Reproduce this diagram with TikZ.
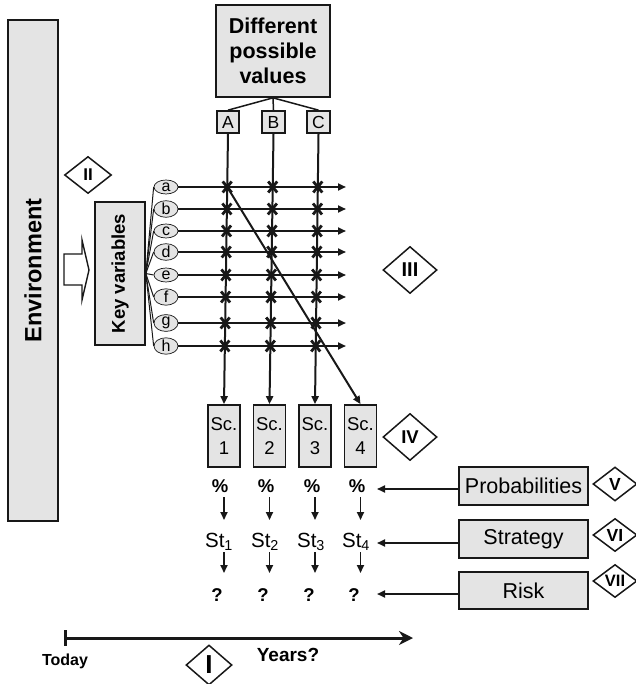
\documentclass[tikz,border=0pt]{standalone}
\usepackage{fontspec}
\setmainfont{Liberation Sans}
\usetikzlibrary{shapes.geometric,arrows.meta,calc}
\definecolor{boxgray}{RGB}{228,228,228}
\definecolor{ink}{RGB}{24,24,24}
\newcommand{\fs}[2]{\fontsize{#1}{#2}\selectfont}
\begin{document}
\begin{tikzpicture}[x=1pt,y=-1pt,
  graybox/.style={draw=ink, line width=1.7pt, fill=boxgray, inner sep=0pt, align=center},
  tag/.style={diamond, draw=ink, line width=1.5pt, fill=white, inner sep=0pt, font=\bfseries},
  varoval/.style={ellipse, draw=ink, line width=0.7pt, fill=boxgray, minimum width=24pt,
                  minimum height=14pt, inner sep=0pt, font=\fs{16}{16}},
  link/.style={draw=ink, line width=2pt},
  tip/.style={-{Triangle[length=8pt,width=7pt]}},
  fan/.style={draw=ink, line width=1pt},
  cell/.style={inner sep=1pt},
]
\useasboundingbox (0,0) rectangle (635,684);

% --- environment and key variables
\node[graybox, minimum width=50pt, minimum height=501pt] (env) at (33,270.5)
  {\rotatebox{90}{\fs{23.5}{23.5}\bfseries Environment}};
\node[graybox, minimum width=50pt, minimum height=143pt] (kv) at (120,273.5)
  {\rotatebox{90}{\fs{18.5}{18.5}\bfseries Key variables}};
\draw[draw=ink, line width=1.4pt, fill=white]
  (64,254) -- (82,254) -- (82,240) -- (89,270) -- (82,300) -- (82,285) -- (64,285) -- cycle;

% --- possible values
\node[graybox, minimum width=114pt, minimum height=92pt, font=\fs{21.5}{25}\bfseries] (vals) at (273,51)
  {Different\\possible\\values};
\node[graybox, minimum width=22pt, minimum height=22pt, font=\fs{17.5}{17.5}] (A) at (228,122) {A};
\node[graybox, minimum width=23pt, minimum height=22pt, font=\fs{17.5}{17.5}] (B) at (273.5,122) {B};
\node[graybox, minimum width=23pt, minimum height=22pt, font=\fs{17.5}{17.5}] (C) at (318.5,122) {C};
\draw[fan, line width=1.5pt] (vals.south) -- (A.north) (vals.south) -- (B.north) (vals.south) -- (C.north);

% --- scenarios
\foreach \i/\x in {1/224,2/269.5,3/315,4/360.5}
  \node[graybox, minimum width=32pt, minimum height=62pt, font=\fs{18.5}{24}] (S\i) at (\x,436) {Sc.\\\i};

% --- key variable ovals and their rows
\foreach \v/\y in {a/187,b/209,c/231,d/252,e/275,f/297,g/323,h/346} {
  \node[varoval] (\v) at (166,\y) {\v};
  \coordinate (\v-end) at (346,\y);
  \draw[fan] (kv.east) -- (\v.west);
  \draw[link, tip] (\v.east) -- (\v-end);
}

% --- value columns
\draw[link, tip] (A.south) -- (S1.north);
\draw[link, tip] (B.south) -- (S2.north);
\draw[link, tip] (C.south) -- (S3.north);
\coordinate (aA) at (intersection of A.south--S1.north and a.east--a-end);
\draw[link, tip] (aA) -- (S4.north);

% --- crossings
\foreach \v in {a,b,c,d,e,f,g,h}
  \foreach \c/\s in {A/S1,B/S2,C/S3} {
    \coordinate (x-\v\c) at (intersection of \c.south--\s.north and \v.east--\v-end);
    \draw[ink, line width=2.8pt] ($(x-\v\c)+(-4.5,-5.5)$) -- ($(x-\v\c)+(4.5,5.5)$)
                                 ($(x-\v\c)+(-4.5,5.5)$) -- ($(x-\v\c)+(4.5,-5.5)$);
  }

% --- probabilities, strategies, risks
\foreach \i/\x in {1/220,2/266,3/312,4/357} {
  \node[cell, font=\fs{18.5}{18.5}\bfseries] (p\i) at (\x,486) {\%};
  \node[cell, font=\fs{20.5}{20.5}] (st\i) at (\x-1,542) {St$_{\mathrm{\i}}$};
  \node[cell, font=\fs{18.5}{18.5}\bfseries] (q\i) at (\x-3,595) {?};
  \draw[link, line width=1.8pt, tip] (S\i |- 0,497) -- (S\i |- 0,520);
  \draw[link, line width=1.8pt, tip] (S\i |- 0,552) -- (S\i |- 0,573);
}

\node[graybox, minimum width=129pt, minimum height=38pt, font=\fs{21.5}{21.5}] (prob) at (523.5,486) {Probabilities};
\node[graybox, minimum width=129pt, minimum height=38pt, font=\fs{21.5}{21.5}] (strat) at (523.5,539) {Strategy};
\node[graybox, minimum width=129pt, minimum height=37pt, font=\fs{21.5}{21.5}] (risk) at (523.5,590.5) {Risk};
\coordinate (pin) at (377,489);
\coordinate (sin) at (377,543);
\coordinate (rin) at (377,594);
\draw[link, line width=1.8pt, tip] (prob.west |- pin) -- (pin);
\draw[link, line width=1.8pt, tip] (strat.west |- sin) -- (sin);
\draw[link, line width=1.8pt, tip] (risk.west |- rin) -- (rin);

% --- step markers
\node[tag, minimum width=47pt, minimum height=37pt, font=\fs{17}{17}\bfseries] (t2) at (88,175) {II};
\node[tag, minimum width=54pt, minimum height=47pt, font=\fs{20}{20}\bfseries] (t3) at (410,270) {III};
\node[tag, minimum width=54pt, minimum height=47pt, font=\fs{18.5}{18.5}\bfseries] (t4) at (410,437) {IV};
\node[tag, minimum width=44pt, minimum height=34pt, font=\fs{17.5}{17.5}\bfseries] (t5) at (615,484) {V};
\node[tag, minimum width=44pt, minimum height=33pt, font=\fs{17.5}{17.5}\bfseries] (t6) at (615,535) {VI};
\node[tag, minimum width=44pt, minimum height=33pt, font=\fs{16.5}{16.5}\bfseries] (t7) at (615,581) {VII};

% --- time axis
\coordinate (t0) at (65,638);
\coordinate (t1) at (413,638);
\coordinate (tk0) at (65,630);
\coordinate (tk1) at (65,646);
\draw[ink, line width=3pt, -{Stealth[length=14pt,width=14pt]}] (t0) -- (t1);
\draw[ink, line width=3pt] (tk0) -- (tk1);
\node[font=\fs{16}{16}\bfseries] (today) at (65,661) {Today};
\node[font=\fs{19}{19}\bfseries] (years) at (288,655) {Years?};
\node[tag, minimum width=46pt, minimum height=40pt, font=\fs{26}{26}\bfseries] (t1tag) at (209,665) {I};
\end{tikzpicture}
\end{document}
